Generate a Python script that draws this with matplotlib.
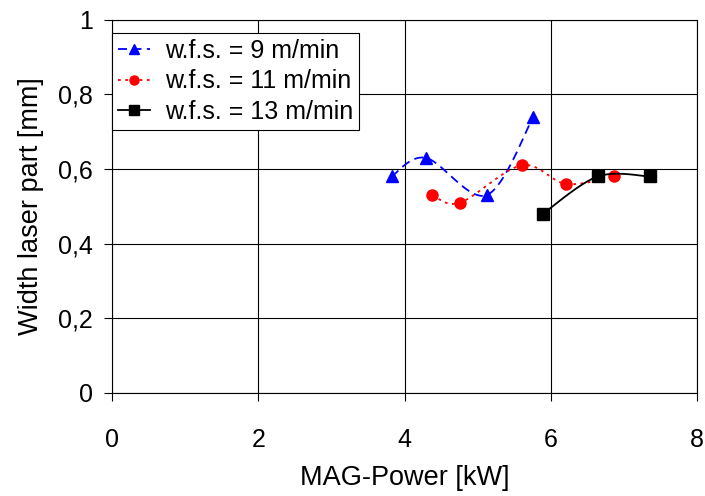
import numpy as np
import matplotlib
matplotlib.use('Agg')
import matplotlib.pyplot as plt

plt.rcParams['font.family'] = ['Liberation Sans', 'DejaVu Sans']

# data
x_9 = [3.82, 4.29, 5.12, 5.76]
y_9 = [0.58, 0.63, 0.53, 0.74]
x_11 = [4.38, 4.76, 5.60, 6.21, 6.86]
y_11 = [0.53, 0.51, 0.61, 0.56, 0.58]
x_13 = [5.89, 6.64, 7.36]
y_13 = [0.48, 0.58, 0.58]
labels = ['w.f.s. = 9 m/min', 'w.f.s. = 11 m/min', 'w.f.s. = 13 m/min']


def smooth(xs, ys, n=30):
    # Excel-like smoothed line (Catmull-Rom as cubic Bezier)
    p = np.column_stack([xs, ys])
    out = []
    for i in range(len(p) - 1):
        p0 = p[i - 1] if i > 0 else p[i]
        p1, p2 = p[i], p[i + 1]
        p3 = p[i + 2] if i + 2 < len(p) else p[i + 1]
        c1 = p1 + (p2 - p0) / 6
        c2 = p2 - (p3 - p1) / 6
        t = np.linspace(0, 1, n)[:, None]
        seg = (1 - t)**3 * p1 + 3 * (1 - t)**2 * t * c1 + 3 * (1 - t) * t**2 * c2 + t**3 * p2
        out.append(seg if i == 0 else seg[1:])
    out = np.vstack(out)
    return out[:, 0], out[:, 1]


fig = plt.figure(figsize=(7.05, 4.96), dpi=100)
ax = fig.add_axes([0.159, 0.208, 0.830, 0.752])

series = [
    (x_9, y_9, 'blue', '^', (0, (5, 3)), labels[0]),
    (x_11, y_11, 'red', 'o', (0, (1.5, 2.5)), labels[1]),
    (x_13, y_13, 'black', 's', '-', labels[2]),
]
for xs, ys, c, m, ls, lab in series:
    sx, sy = smooth(xs, ys)
    ax.plot(sx, sy, color=c, linestyle=ls, linewidth=1.3)
    ax.plot(xs, ys, linestyle='none', marker=m, color=c, markersize=8)
    ax.plot([], [], color=c, linestyle=ls, linewidth=1.3, marker=m, markersize=6.5, label=lab)

ax.set_xlim(0, 8)
ax.set_ylim(0, 1)
ax.set_xticks([0, 2, 4, 6, 8])
ax.set_yticks([0, 0.2, 0.4, 0.6, 0.8, 1])
ax.set_yticklabels(['0', '0,2', '0,4', '0,6', '0,8', '1'])
ax.grid(True, color='black', linewidth=0.8)
ax.tick_params(labelsize=18, direction='out', length=6, pad=8)
ax.tick_params(axis='x', pad=19)
ax.set_xlabel('MAG-Power [kW]', fontsize=19.5, labelpad=10)
ax.set_ylabel('Width laser part [mm]', fontsize=19.5, labelpad=10)

leg = ax.legend(loc='upper left', bbox_to_anchor=(0, 0.965), fontsize=18, frameon=True,
                fancybox=False, edgecolor='black', framealpha=1, borderaxespad=0,
                handlelength=1.25, handletextpad=0.6, labelspacing=0.25, borderpad=0.25)
leg.get_frame().set_linewidth(0.8)

plt.savefig('out.png', dpi=100)
